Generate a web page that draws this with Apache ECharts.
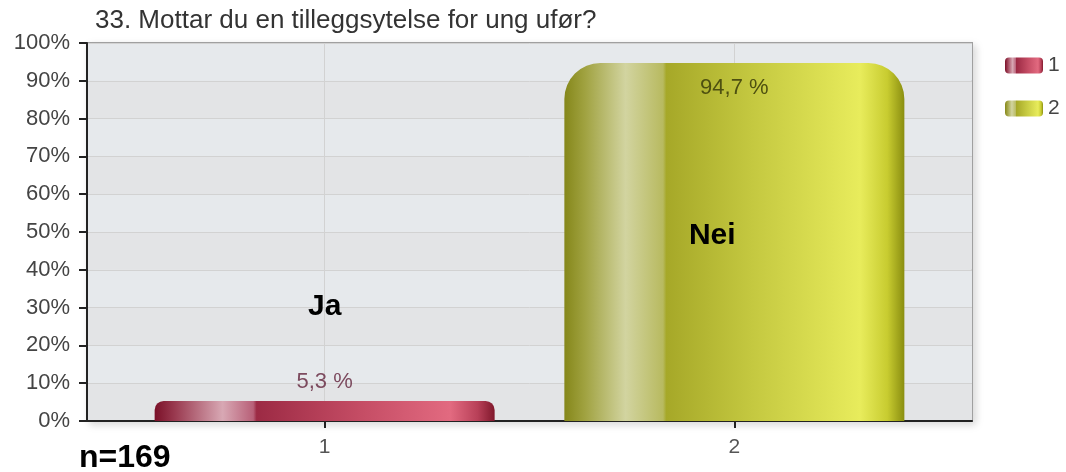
<!DOCTYPE html>
<html>
<head>
<meta charset="utf-8">
<script src="https://cdn.jsdelivr.net/npm/echarts@6/dist/echarts.min.js"></script>
<style>
	html, body { margin: 0; padding: 0; background: #fff; }
	#chart { width: 1066px; height: 472px; }
</style>
</head>
<body>
<div id="chart"></div>
<script>
// data
var titleText = '33. Mottar du en tilleggsytelse for ung ufør?';
var categories = [1, 2];
var seriesNames = ['1', '2'];
var percentages = [5.3, 94.7];
var answerNames = ['Ja', 'Nei'];
var yTicks = [0, 10, 20, 30, 40, 50, 60, 70, 80, 90, 100];
var sampleSize = 169;

//颜色渐变
var grad = function(stops){
	return new echarts.graphic.LinearGradient(0, 0, 1, 0, stops.map(function(s){
		return {offset: s[0], color: s[1]};
	}));
};

var redGrad = grad([
	[0, '#7a1028'], [0.06, '#9a3a50'], [0.2, '#d8a8b4'], [0.29, '#b86078'],
	[0.3, '#9c2a44'], [0.6, '#c44c64'], [0.87, '#e26a80'], [0.95, '#b84058'], [1, '#80182c']
]);
var oliveGrad = grad([
	[0, '#85871a'], [0.06, '#a0a240'], [0.18, '#d2d4a0'], [0.29, '#b8ba60'],
	[0.3, '#a6a828'], [0.55, '#c4c840'], [0.87, '#e8ec5c'], [0.95, '#c8cc30'], [1, '#8a8e10']
]);

var fmt = function(v){ return String(v).replace('.', ',') + ' %'; };

var chart = echarts.init(document.getElementById('chart'));

chart.setOption({
	animation: false,
	textStyle: {fontFamily: 'Liberation Sans, Arial, sans-serif'},
	title: {
		text: titleText, left: 90, top: 3,
		textStyle: {fontSize: 26, fontWeight: 'normal', color: '#333'}
	},
	legend: {
		orient: 'vertical', left: 1000, top: 50,
		itemWidth: 38, itemHeight: 16, itemGap: 22,
		icon: 'roundRect',
		textStyle: {fontSize: 21, color: '#444'},
		data: seriesNames
	},
	grid: {
		left: 87, right: 94, top: 43, bottom: 51,
		show: true, backgroundColor: '#e4e6e9',
		borderColor: '#a0a0a0', borderWidth: 2,
		shadowBlur: 8, shadowColor: 'rgba(0,0,0,0.15)', shadowOffsetX: 3, shadowOffsetY: 3
	},
	xAxis: {
		type: 'value', min: 0.42, max: 2.58,
		axisLine: {show: true, onZero: false, lineStyle: {color: '#222', width: 2}},
		axisTick: {show: true, length: 7, customValues: categories, lineStyle: {color: '#222', width: 2}},
		axisLabel: {customValues: categories, margin: 16, fontSize: 21, color: '#555'},
		splitLine: {show: true, lineStyle: {color: '#d2d2d2'}}
	},
	yAxis: {
		type: 'value', min: yTicks[0], max: yTicks[yTicks.length - 1], interval: 10,
		axisLine: {show: true, lineStyle: {color: '#222', width: 2}},
		axisTick: {show: true, length: 8, lineStyle: {color: '#222', width: 2}},
		axisLabel: {formatter: '{value}%', margin: 17, fontSize: 22, color: '#444'},
		splitLine: {show: true, lineStyle: {color: '#d2d2d2'}},
		splitArea: {show: true, areaStyle: {color: ['#e3e4e6', '#e6e9ec']}}
	},
	series: [{
		name: seriesNames[0], type: 'bar', barWidth: 340, barGap: '-100%',
		data: [[categories[0], percentages[0]]],
		itemStyle: {color: redGrad, borderRadius: [9, 9, 0, 0]},
		label: {show: true, position: 'top', distance: 8, fontSize: 22, color: '#7c4a5e',
			formatter: function(p){ return fmt(p.value[1]); }},
		markPoint: {
			symbolSize: 0,
			label: {show: true, position: 'inside', formatter: '{b}', fontSize: 30, fontWeight: 'bold', color: '#000'},
			data: [{name: answerNames[0], coord: [1, 30.2]}]
		}
	}, {
		name: seriesNames[1], type: 'bar', barWidth: 340, barGap: '-100%',
		data: [[categories[1], percentages[1]]],
		itemStyle: {color: oliveGrad, borderRadius: [36, 36, 0, 0]},
		label: {show: true, position: 'insideTop', distance: 14, fontSize: 22, color: '#4e5010',
			formatter: function(p){ return fmt(p.value[1]); }},
		markPoint: {
			symbolSize: 0,
			label: {show: true, position: 'inside', formatter: '{b}', fontSize: 30, fontWeight: 'bold', color: '#000'},
			data: [{name: answerNames[1], coord: [1.946, 49]}]
		}
	}],
	graphic: [{
		type: 'text', left: 79, top: 442,
		style: {text: 'n=' + sampleSize, font: 'bold 32px Liberation Sans, Arial, sans-serif', fill: '#000'}
	}]
});
</script>
</body>
</html>
